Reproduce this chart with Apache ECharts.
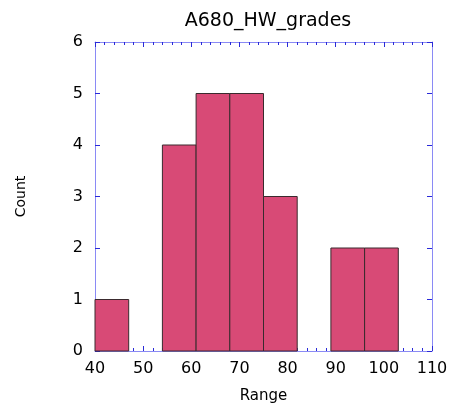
<!DOCTYPE html>
<html><head><meta charset="utf-8">
<script src="https://cdn.jsdelivr.net/npm/echarts@6/dist/echarts.min.js"></script>
<style>html,body{margin:0;padding:0;background:#fff}#c{width:455px;height:406px}</style>
</head><body><div id="c"></div>
<script>
const binStarts = [40, 47, 54, 61, 68, 75, 82, 89, 96];
const binWidth = 7;
const counts = [1, 0, 4, 5, 5, 3, 0, 2, 2];
const xTicks = [40, 50, 60, 70, 80, 90, 100, 110];
const yTicks = [0, 1, 2, 3, 4, 5, 6];

const font = 'DejaVu Sans';
const axisLineColor = '#8a8af5';
const tickColor = '#2a2ad8';
const data = binStarts.map((s, i) => [s, s + binWidth, counts[i]]).filter(d => d[2] > 0);

const chart = echarts.init(document.getElementById('c'));
const xBase = {
  type: 'value', min: xTicks[0], max: xTicks[xTicks.length - 1], interval: 10,
  axisLine: { show: true, onZero: false, lineStyle: { color: axisLineColor, width: 1 } },
  axisTick: { show: true, inside: true, length: 5, lineStyle: { color: tickColor } },
  minorTick: { show: true, splitNumber: 5, length: 3, lineStyle: { color: tickColor } },
  splitLine: { show: false }
};
const yBase = {
  type: 'value', min: yTicks[0], max: yTicks[yTicks.length - 1], interval: 1,
  axisLine: { show: true, onZero: false, lineStyle: { color: axisLineColor, width: 1 } },
  axisTick: { show: true, inside: true, length: 5, lineStyle: { color: tickColor } },
  splitLine: { show: false }
};
chart.setOption({
  animation: false,
  backgroundColor: '#fff',
  title: {
    text: 'A680_HW_grades', left: 263, top: 7, textAlign: 'center',
    textStyle: { fontFamily: font, fontSize: 19, fontWeight: 'normal', color: '#000' }
  },
  grid: { left: 95, right: 23, top: 42, bottom: 55, containLabel: false, outerBoundsMode: 'none' },
  xAxis: [
    Object.assign({}, xBase, {
      position: 'bottom',
      name: 'Range', nameLocation: 'middle', nameGap: 38,
      nameTextStyle: { fontFamily: font, fontSize: 15, color: '#000' },
      axisLabel: { fontFamily: font, fontSize: 16, color: '#000', margin: 10 }
    }),
    Object.assign({}, xBase, { position: 'top', axisLabel: { show: false } })
  ],
  yAxis: [
    Object.assign({}, yBase, {
      position: 'left',
      name: 'Count', nameLocation: 'middle', nameGap: 67, nameRotate: 90,
      nameTextStyle: { fontFamily: font, fontSize: 14, color: '#000' },
      axisLabel: { fontFamily: font, fontSize: 16, color: '#000', margin: 12 }
    }),
    Object.assign({}, yBase, { position: 'right', axisLabel: { show: false } })
  ],
  series: [{
    type: 'custom',
    xAxisIndex: 0, yAxisIndex: 0,
    data: data,
    encode: { x: [0, 1], y: 2 },
    renderItem: function (params, api) {
      const p0 = api.coord([api.value(0), api.value(2)]);
      const p1 = api.coord([api.value(1), 0]);
      return {
        type: 'rect',
        shape: { x: p0[0], y: p0[1], width: p1[0] - p0[0], height: p1[1] - p0[1] },
        style: { fill: '#d84a76', stroke: '#3a2a2e', lineWidth: 1 }
      };
    }
  }]
});
</script></body></html>
